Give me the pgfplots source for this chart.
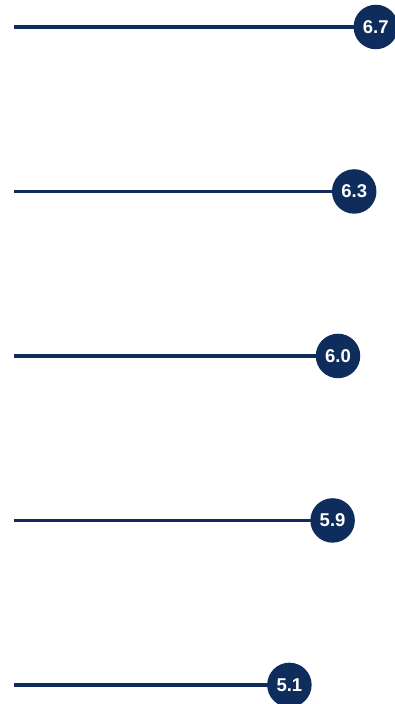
\documentclass[border=0pt]{standalone}
\usepackage{pgfplots}
\pgfplotsset{compat=1.18}
\usepackage{fontspec}
\setmainfont{Liberation Sans}
\definecolor{navy}{RGB}{14,45,92}
\begin{document}
\begin{tikzpicture}
\begin{axis}[
  scale only axis,
  width=395bp, height=704bp,
  at={(0,0)}, anchor=south west,
  xmin=-0.2593, xmax=7.0556,
  ymin=-0.164, ymax=4.116,
  y dir=reverse,
  hide axis,
  clip=false,
  /pgf/number format/assume math mode=true,
]
\addplot[navy, line width=3.7bp, line cap=butt] coordinates {(0,0) (6.7,0)};
\addplot[navy, line width=3.7bp, line cap=butt] coordinates {(0,1) (6.3,1)};
\addplot[navy, line width=3.7bp, line cap=butt] coordinates {(0,2) (6.0,2)};
\addplot[navy, line width=3.7bp, line cap=butt] coordinates {(0,3) (5.9,3)};
\addplot[navy, line width=3.7bp, line cap=butt] coordinates {(0,4) (5.1,4)};
\addplot[draw=none, mark=none, point meta=x,
  nodes near coords={\pgfmathprintnumber[fixed,fixed zerofill,precision=1]{\pgfplotspointmeta}},
  every node near coord/.style={circle, fill=navy, text=white, minimum size=44.5bp, inner sep=0pt, anchor=center,
    font=\fontsize{18.5bp}{21bp}\selectfont\bfseries},
] coordinates {(6.7,0) (6.3,1) (6.0,2) (5.9,3) (5.1,4)};
\end{axis}
\pgfresetboundingbox
\useasboundingbox (0,0) rectangle (395bp,704bp);
\end{tikzpicture}
\end{document}
